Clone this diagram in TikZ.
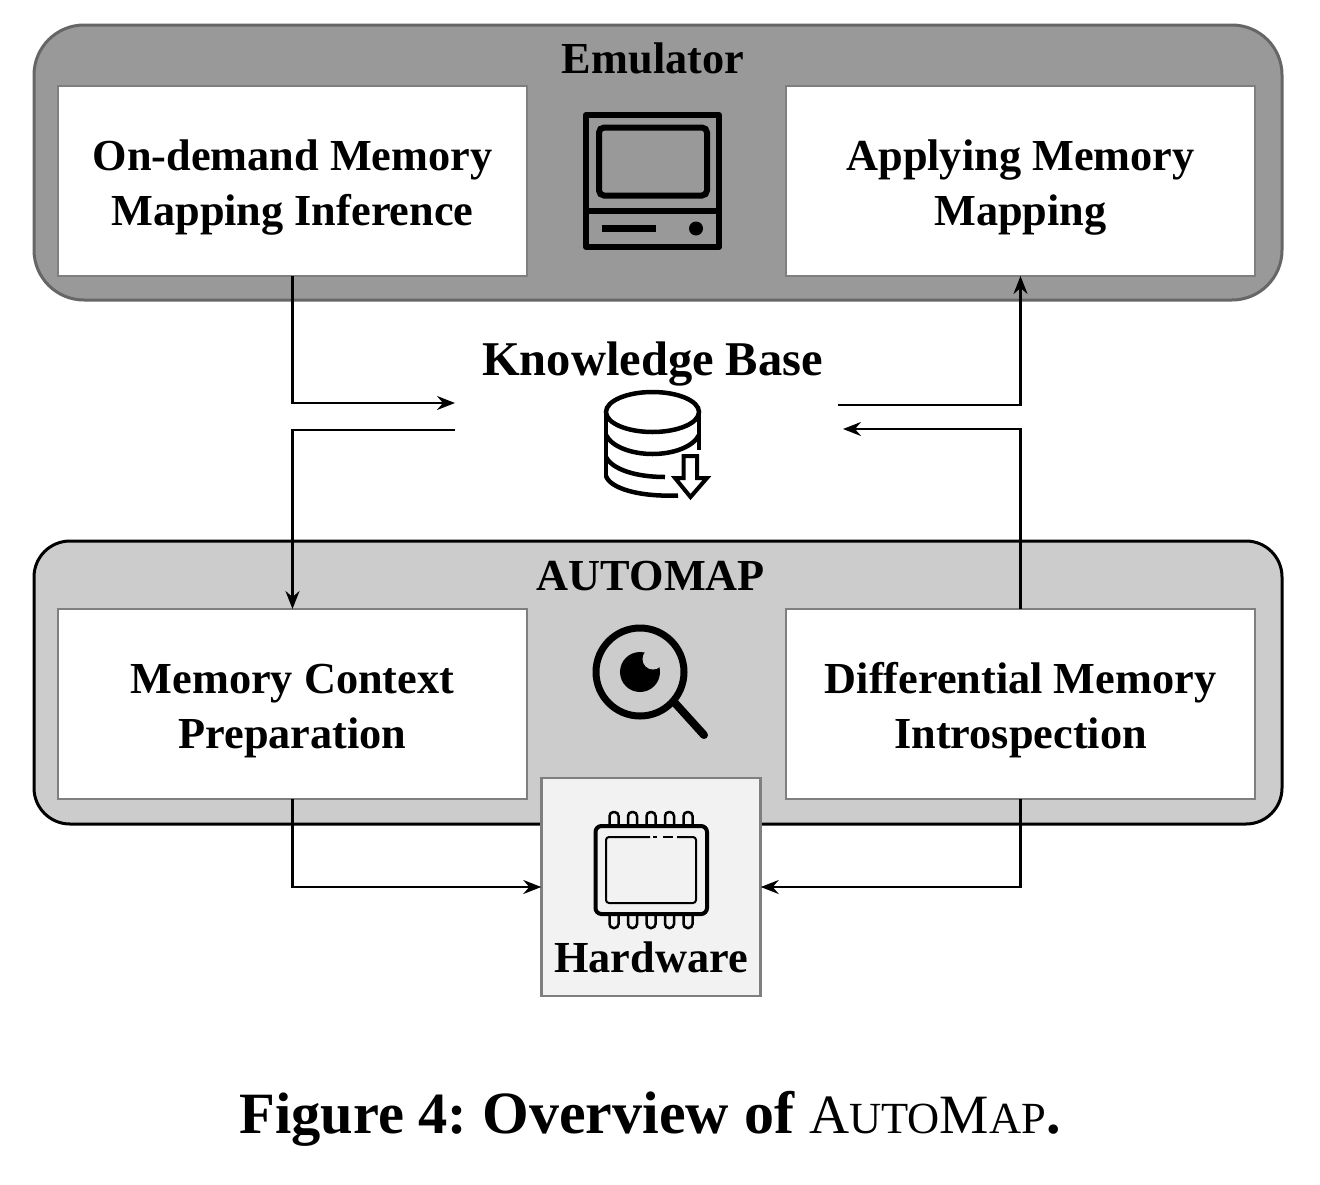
\documentclass[tikz,border=0pt]{standalone}
\usepackage{fontspec}
\setmainfont{Liberation Serif}
\usetikzlibrary{arrows.meta}
\newcommand{\fs}[1]{\fontsize{#1}{#1}\selectfont}
\newcommand{\toppad}{\rule{0pt}{34pt}}
\definecolor{emufill}{HTML}{999999}
\definecolor{emuedge}{HTML}{666666}
\definecolor{autofill}{HTML}{CCCCCC}
\definecolor{boxedge}{HTML}{7F7F7F}
\definecolor{hwfill}{HTML}{F2F2F2}
\tikzset{
  x=1pt,y=-1pt,
  stepbox/.style={draw=boxedge,line width=2.8pt,fill=white,minimum width=469pt,minimum height=190pt,inner sep=0pt,outer sep=0pt,align=center,font=\fs{44.3}\bfseries,text depth=0pt},
  title/.style={inner sep=0pt,font=\fs{44.3}\bfseries},
  flow/.style={draw=black,line width=2.1pt},
  flowa/.style={flow,-{Stealth[length=18pt,width=14pt,inset=6pt]}},
  icon/.style={draw=black,line width=6pt},
}
\begin{document}
\begin{tikzpicture}
\useasboundingbox (0,0) rectangle (1320,1184);
\fill[white] (0,0) rectangle (1320,1184);
% containers
\draw[draw=emuedge,fill=emufill,line width=3pt,rounded corners=50pt] (34,25) rectangle (1282,300);
\draw[draw=black,fill=autofill,line width=3pt,rounded corners=36pt] (34,541) rectangle (1282,824);
\node[title] (emu) at (653,58) {Emulator};
\node[title] (auto) at (651,576) {AUTOMAP};
% boxes
\node[stepbox] (infer) at (292.5,181) {\toppad On-demand Memory\\[10.5pt]Mapping Inference};
\node[stepbox] (apply) at (1020.5,181) {\toppad Applying Memory\\[10.5pt]Mapping};
\node[stepbox] (prep) at (292.5,704) {\toppad Memory Context\\[10.5pt]Preparation};
\node[stepbox] (diff) at (1020.5,704) {\toppad Differential Memory\\[10.5pt]Introspection};
% hardware
\node[draw=boxedge,line width=2.8pt,fill=hwfill,minimum width=219.5pt,minimum height=218pt,inner sep=0pt,outer sep=0pt] (hw) at (651,887) {};
\node[title] (hwt) at (651,957) {Hardware};
\node[inner sep=0pt,font=\fs{48.5}\bfseries] (kb) at (652.5,364) {Knowledge Base};
% free ends
\coordinate (kbLin) at (455,403);
\coordinate (kbLout) at (455,430);
\coordinate (kbRout) at (838,405);
\coordinate (kbRin) at (843,429);
% connectors
\draw[flowa] (infer.south) |- (kbLin);
\draw[flowa] (kbLout) -| (prep.north);
\draw[flowa] (kbRout) -| (apply.south);
\draw[flowa] (diff.north) |- (kbRin);
\draw[flowa] (prep.south) |- (hw.west);
\draw[flowa] (diff.south) |- (hw.east);
% computer icon
\draw[icon,line join=round] (586,115) rectangle (719,247);
\draw[icon,rounded corners=5pt] (599,127.5) rectangle (707,195.5);
\draw[icon] (586,211) -- (719,211);
\draw[black,line width=7pt] (602,228.5) -- (656,228.5);
\fill[black] (696,228.5) circle (7);
% database icon
\begin{scope}[line width=4.5pt,draw=black,line cap=butt]
\draw (652.5,412) ellipse [x radius=46.5, y radius=20];
\draw (606,412) -- (606,477);
\draw (699,412) -- (699,450);
\draw (606,435) .. controls (612,447) and (632,454) .. (652.5,454) .. controls (673,454) and (693,447) .. (699,435);
\draw (606,457) .. controls (612,469) and (635,477) .. (665,477);
\draw (606,476) .. controls (610,488) and (638,497) .. (678,495.5);
\end{scope}
\draw[line width=4pt,line join=miter] (683.5,456) -- (697,456) -- (697,478) -- (707,478) -- (690.5,497) -- (675,478) -- (683.5,478) -- cycle;
% magnifier icon
\draw[draw=black,line width=7pt] (640,672) circle (44);
\draw[black,line width=8pt,line cap=round] (675,703) -- (704,735);
\fill[black] (640,672) circle (20);
\fill[autofill] (653,659) circle (10.5);
% chip icon
\foreach \xx in {614,632.5,651,669.5,688}{
  \draw[black,line width=2.5pt,rounded corners=4pt] (\xx-4.5,826) -- (\xx-4.5,812) -- (\xx+4.5,812) -- (\xx+4.5,826);
  \draw[black,line width=2.5pt,rounded corners=4pt] (\xx-4.5,914) -- (\xx-4.5,928) -- (\xx+4.5,928) -- (\xx+4.5,914);
}
\draw[black,line width=4pt,rounded corners=6pt,fill=hwfill] (595.5,826) rectangle (707,914);
\draw[black,line width=2pt,rounded corners=3pt] (650,837) -- (606,837) -- (606,903) -- (696,903) -- (696,837) -- (677,837);
\draw[black,line width=2pt] (653,837) -- (657,837) (663,837) -- (673,837);
% caption
\node[inner sep=0pt,anchor=base] (cap) at (650,1133) {\bfseries\fs{58.5}Figure 4:\hspace{15pt}\fs{60}Overview of\hspace{15pt}{\mdseries\fs{55.5}A\fs{44.5}UTO\fs{55.5}M\fs{44.5}AP}\fs{58}.};
\end{tikzpicture}
\end{document}
